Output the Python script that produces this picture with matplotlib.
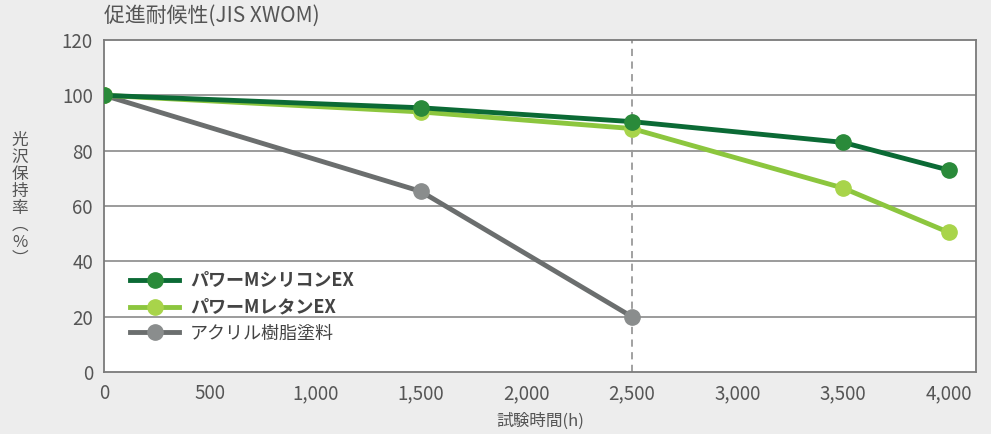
import matplotlib
matplotlib.use("Agg")
import matplotlib.pyplot as plt

plt.rcParams['font.family'] = ['Noto Sans CJK JP', 'DejaVu Sans']

# data
hours = [0, 1500, 2500, 3500, 4000]
silicon = [100, 95.5, 90.5, 83, 73]
letan = [100, 94, 88, 66.5, 50.5]
acryl_hours = [0, 1500, 2500]
acryl = [100, 65.3, 20]

names = ['パワーMシリコンEX', 'パワーMレタンEX', 'アクリル樹脂塗料']
colors = ['#0b6a35', '#8cc63e', '#6b6e6e']
marker_colors = ['#2a8a3a', '#a8d44a', '#8a8d8d']
xticks = [0, 500, 1000, 1500, 2000, 2500, 3000, 3500, 4000]
yticks = [0, 20, 40, 60, 80, 100, 120]

fig = plt.figure(figsize=(9.91, 4.34), dpi=100)
fig.patch.set_facecolor('#ededed')
ax = fig.add_axes([104/991, 62/434, 872/991, 332/434])
ax.set_facecolor('white')

#horizontal grid lines and the dashed 2,500h line
for y in yticks[1:-1]:
    ax.axhline(y, color='#8a8a8a', lw=1.2, zorder=1)
ax.axvline(2500, color='#9a9a9a', lw=1.3, ls=(0, (4, 3)), zorder=1)

series = [(hours, silicon), (hours, letan), (acryl_hours, acryl)]
order = [2, 1, 0]
for i in order:
    xs, ys = series[i]
    ax.plot(xs, ys, color=colors[i], lw=3.5, marker='o', ms=11,
            mfc=marker_colors[i], mec=marker_colors[i], mew=1.0, label=names[i],
            zorder=3 + (2 - i))

ax.set_xlim(0, 4130)
ax.set_ylim(0, 120)
ax.set_xticks(xticks)
ax.set_xticklabels([f'{v:,}' for v in xticks])
ax.set_yticks(yticks)
ax.tick_params(length=0, labelsize=13.5, colors='#555555', pad=8)
for s in ax.spines.values():
    s.set_color('#7a7a7a')
    s.set_linewidth(1.3)

handles, labels = ax.get_legend_handles_labels()
handles = handles[::-1]
labels = labels[::-1]
leg = ax.legend(handles, labels, loc='upper left', bbox_to_anchor=(0.022, 0.325),
                frameon=False, fontsize=13, handlelength=2.7, labelspacing=0.42,
                handletextpad=0.6, borderaxespad=0)
for t, w in zip(leg.get_texts(), ['bold', 'bold', 'normal']):
    t.set_fontweight(w)
    t.set_color('#444444')

fig.text(104/991, 1 - 16/434, '促進耐候性(JIS XWOM)', fontsize=15, color='#555555',
         va='center', ha='left')
fig.text(540/991, 1 - 421/434, '試験時間(h)', fontsize=12, color='#555555',
         va='center', ha='center')
fig.text(20/991, 1 - 200/434, '光\n沢\n保\n持\n率\n︵\n%\n︶', fontsize=12,
         color='#555555', va='center', ha='center', linespacing=1.0)

fig.savefig('out.png', dpi=100, facecolor=fig.get_facecolor())
